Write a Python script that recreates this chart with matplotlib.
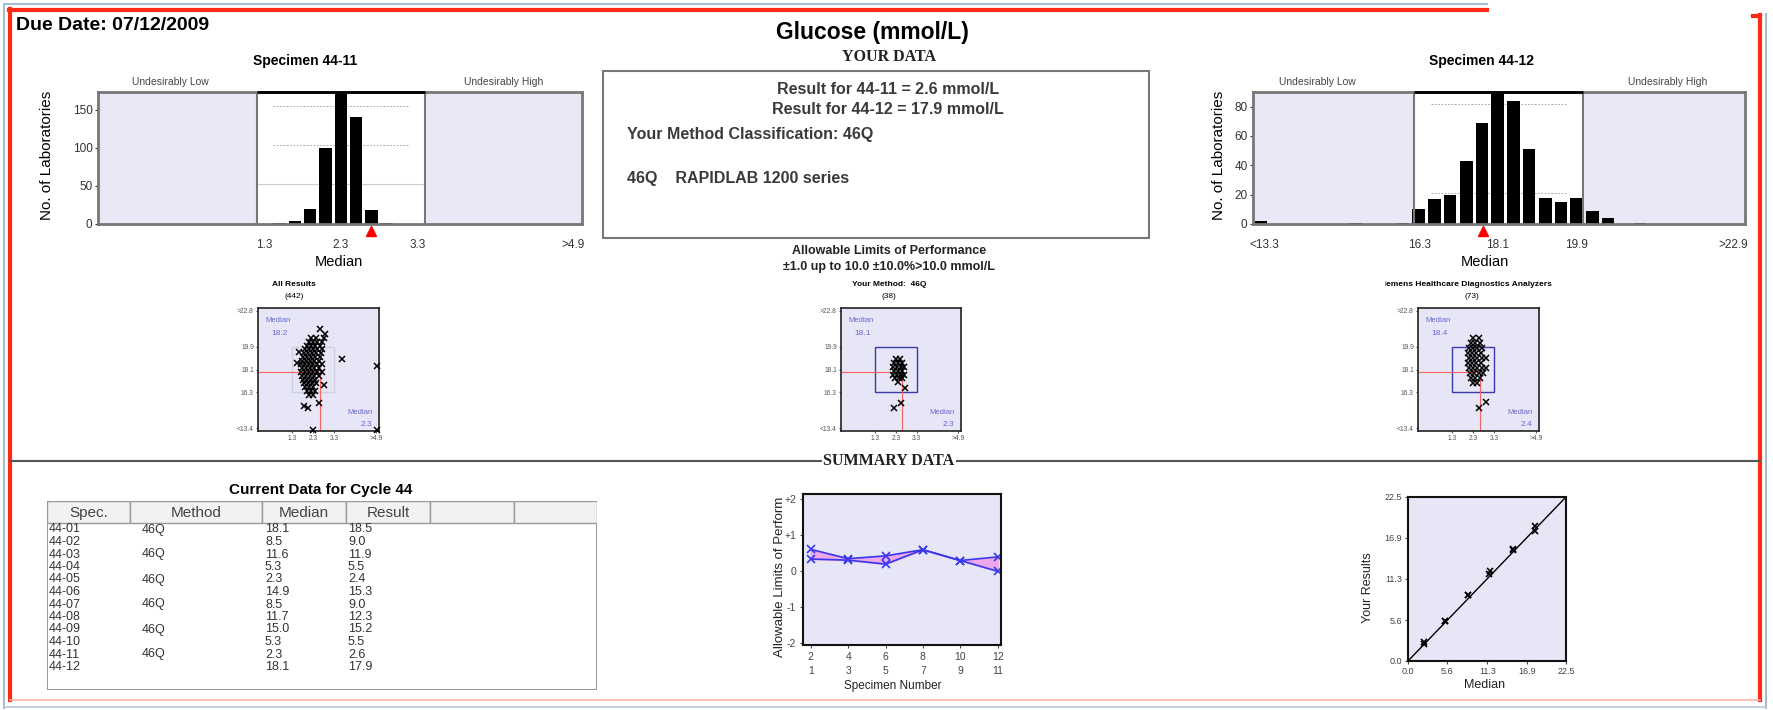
import matplotlib.pyplot as plt
import matplotlib.transforms as mtransforms
from matplotlib.lines import Line2D
from matplotlib.patches import Rectangle

plt.rcParams['font.family'] = ['Liberation Sans', 'DejaVu Sans']

W, H = 1773, 710

# ---------- data ----------
# histogram, specimen 44-11
s11_bins = [1.5, 1.7, 1.9, 2.1, 2.3, 2.5, 2.7, 2.9]
s11_counts = [1, 4, 20, 99, 172, 140, 18, 1]
s11_mark = 2.7
s11_limits = (1.2, 3.4)
s11_xlim = (-0.87, 5.45)
s11_ticks = [1.3, 2.3, 3.3, 5.33]
s11_ticklabels = ["1.3", "2.3", "3.3", ">4.9"]
s11_yticks = [0, 50, 100, 150]

# histogram, specimen 44-12
s12_bins = [12.67, 14.84, 15.93, 16.29, 16.65, 17.01, 17.38, 17.74, 18.1,
            18.46, 18.82, 19.19, 19.55, 19.91, 20.27, 20.63, 21.36]
s12_counts = [2, 1, 1, 10, 17, 20, 43, 69, 90, 84, 51, 18, 15, 18, 9, 4, 0.6]
s12_mark = 17.76
s12_limits = (16.19, 20.06)
s12_xlim = (12.49, 23.77)
s12_ticks = [12.75, 16.3, 18.1, 19.9, 23.5]
s12_ticklabels = ["<13.3", "16.3", "18.1", "19.9", ">22.9"]
s12_yticks = [0, 20, 40, 60, 80]

# youden plots (x = 44-11, y = 44-12)
all_x = [2.6, 2.2, 2.45, 2.8, 2.1, 2.3, 2.5, 2.7, 2.0, 2.2, 2.4, 2.6, 1.9, 2.1,
         2.3, 2.5, 2.7, 1.85, 2.05, 2.25, 2.45, 2.65, 1.8, 2.0, 2.2, 2.4, 2.6,
         1.75, 1.95, 2.15, 2.35, 2.55, 1.7, 1.9, 2.1, 2.3, 2.5, 2.7, 1.75, 1.95,
         2.15, 2.35, 2.55, 1.7, 1.9, 2.1, 2.3, 2.5, 2.7, 1.75, 1.95, 2.15, 2.35,
         2.55, 1.8, 2.0, 2.2, 2.4, 1.85, 2.05, 2.25, 2.45, 1.9, 2.1, 2.3, 2.0,
         2.2, 2.4, 2.1, 2.3, 3.7, 5.35, 1.85, 2.05, 2.55, 2.3, 5.35, 1.5, 2.85,
         1.6, 2.8]
all_y = [21.3, 20.6, 20.6, 20.6, 20.3, 20.3, 20.3, 20.3, 20.0, 20.0, 20.0, 20.0,
         19.7, 19.7, 19.7, 19.7, 19.7, 19.4, 19.4, 19.4, 19.4, 19.4, 19.1, 19.1,
         19.1, 19.1, 19.1, 18.8, 18.8, 18.8, 18.8, 18.8, 18.5, 18.5, 18.5, 18.5,
         18.5, 18.5, 18.2, 18.2, 18.2, 18.2, 18.2, 17.9, 17.9, 17.9, 17.9, 17.9,
         17.9, 17.6, 17.6, 17.6, 17.6, 17.6, 17.3, 17.3, 17.3, 17.3, 17.0, 17.0,
         17.0, 17.0, 16.7, 16.7, 16.7, 16.4, 16.4, 16.4, 16.1, 16.1, 18.9, 18.4,
         15.2, 15.0, 15.4, 13.3, 13.3, 18.6, 20.9, 19.5, 16.9]

meth_x = [2.3, 2.5, 2.2, 2.4, 2.6, 2.15, 2.35, 2.55, 2.7, 2.2, 2.4, 2.6, 2.15,
          2.35, 2.55, 2.7, 2.25, 2.45, 2.6, 2.2, 2.55, 2.75, 2.4]
meth_y = [18.9, 18.9, 18.6, 18.6, 18.6, 18.3, 18.3, 18.3, 18.3, 18.0, 18.0, 18.0,
          17.7, 17.7, 17.7, 17.7, 17.4, 17.4, 17.4, 15.0, 15.4, 16.6, 17.1]

inst_x = [2.3, 2.55, 2.2, 2.4, 2.6, 2.1, 2.3, 2.5, 2.7, 2.05, 2.25, 2.45, 2.65,
          2.1, 2.3, 2.5, 2.7, 2.9, 2.05, 2.25, 2.45, 2.65, 2.1, 2.3, 2.5, 2.7,
          2.9, 2.15, 2.35, 2.55, 2.75, 2.2, 2.4, 2.6, 2.3, 2.5, 2.55, 2.9]
inst_y = [20.6, 20.6, 20.2, 20.2, 20.2, 19.8, 19.8, 19.8, 19.8, 19.4, 19.4, 19.4,
          19.4, 19.0, 19.0, 19.0, 19.0, 19.0, 18.6, 18.6, 18.6, 18.6, 18.2, 18.2,
          18.2, 18.2, 18.2, 17.8, 17.8, 17.8, 17.8, 17.4, 17.4, 17.4, 17.0, 17.0,
          15.0, 15.5]

your_11, your_12 = 2.6, 17.9
yd_xticks = [1.3, 2.3, 3.3, 5.3]
yd_xlabels = ["1.3", "2.3", "3.3", ">4.9"]
yd_yticks = [13.4, 16.3, 18.1, 19.9, 22.8]
yd_ylabels = ["<13.4", "16.3", "18.1", "19.9", ">22.8"]

# table, cycle 44
spec = ["44-01", "44-02", "44-03", "44-04", "44-05", "44-06",
        "44-07", "44-08", "44-09", "44-10", "44-11", "44-12"]
method = ["46Q", "", "46Q", "", "46Q", "", "46Q", "", "46Q", "", "46Q", ""]
median = [18.1, 8.5, 11.6, 5.3, 2.3, 14.9, 8.5, 11.7, 15.0, 5.3, 2.3, 18.1]
result = [18.5, 9.0, 11.9, 5.5, 2.4, 15.3, 9.0, 12.3, 15.2, 5.5, 2.6, 17.9]

# summary: specimen pairs, in units of allowable limits
pair_pos = [1, 2, 3, 4, 5, 6]
even_lbl = ["2", "4", "6", "8", "10", "12"]
odd_lbl = ["1", "3", "5", "7", "9", "11"]
odd_vals = [0.34, 0.31, 0.2, 0.6, 0.3, 0.4]
even_vals = [0.61, 0.35, 0.43, 0.6, 0.3, 0.0]

fig = plt.figure(figsize=(W / 100, H / 100), dpi=100)


def box(x0, y0, x1, y1):
    return [x0 / W, 1 - y1 / H, (x1 - x0) / W, (y1 - y0) / H]


def ftext(x, y, s, **kw):
    kw.setdefault("ha", "center")
    kw.setdefault("va", "center")
    return fig.text(x / W, 1 - y / H, s, **kw)


def fline(x0, y0, x1, y1, **kw):
    fig.add_artist(Line2D([x0 / W, x1 / W], [1 - y0 / H, 1 - y1 / H], **kw))


LAV = "#e6e6f6"

# ---------- frame ----------
fline(5, 4, 1487, 4, color="#a8bcd0", lw=1.5)
fline(4, 4, 4, 708, color="#a8bcd0", lw=1.5)
fline(1766, 14, 1766, 708, color="#a8bcd0", lw=1.5)
fline(9, 10, 1487, 10, color="#ff2a14", lw=3)
fline(10, 9, 10, 700, color="#ff2a14", lw=3)
fline(1753, 16, 1760, 16, color="#ff2a14", lw=3)
fline(1760, 15, 1760, 700, color="#ff2a14", lw=3)
fline(10, 700, 1760, 700, color="#ffb0a8", lw=1.2)
fline(4, 707, 1766, 707, color="#b8c8d8", lw=1.2)

# ---------- header ----------
ftext(16, 25, "Due Date: 07/12/2009", ha="left", fontsize=14, fontweight="bold")
ftext(872, 32, "Glucose (mmol/L)", fontsize=16.5, fontweight="bold")
ftext(889, 57, "YOUR DATA", fontsize=11.5, fontweight="bold",
      family=["Liberation Serif", "DejaVu Serif"], color="#222222")

fig.add_artist(Rectangle((603 / W, 1 - 238 / H), (1149 - 603) / W, (238 - 71) / H,
                         transform=fig.transFigure, fill=False, ec="#777777", lw=1.5))
ftext(888, 90, "Result for 44-11 = 2.6 mmol/L", fontsize=11.5, fontweight="bold", color="#3a3a3a")
ftext(888, 110, "Result for 44-12 = 17.9 mmol/L", fontsize=11.5, fontweight="bold", color="#3a3a3a")
ftext(627, 134, "Your Method Classification: 46Q", ha="left", fontsize=11.5,
      fontweight="bold", color="#3a3a3a")
ftext(627, 178, "46Q    RAPIDLAB 1200 series", ha="left", fontsize=11.5,
      fontweight="bold", color="#3a3a3a")
ftext(889, 251, "Allowable Limits of Performance", fontsize=9, fontweight="bold", color="#222222")
ftext(889, 267, "\u00b11.0 up to 10.0 \u00b110.0%>10.0 mmol/L", fontsize=9,
      fontweight="bold", color="#222222")


# ---------- histograms ----------
def hist_panel(px, bins, counts, width, xlim, ylim, lim, yticks, xticks, xlabels,
               mark_x, dotted, solid):
    ax = fig.add_axes(box(*px))
    ax.set_facecolor("#e8e8f7")
    ax.axvspan(lim[0], lim[1], color="white", zorder=0)
    for v in dotted:
        ax.hlines(v, lim[0] + 0.1 * (lim[1] - lim[0]), lim[1] - 0.1 * (lim[1] - lim[0]),
                  color="#999999", lw=0.6, ls=(0, (2, 2)), zorder=1)
    for v in solid:
        ax.hlines(v, lim[0], lim[1], color="#cccccc", lw=0.8, zorder=1)
    ax.bar(bins, counts, width=width, color="black", zorder=2)
    ax.axvline(lim[0], color="#777777", lw=1.5, zorder=3)
    ax.axvline(lim[1], color="#777777", lw=1.5, zorder=3)
    ax.hlines(ylim[1], lim[0], lim[1], color="black", lw=2, zorder=4, clip_on=False)
    ax.set_xlim(*xlim)
    ax.set_ylim(*ylim)
    ax.set_yticks(yticks)
    ax.set_xticks(xticks)
    ax.set_xticklabels(xlabels)
    ax.tick_params(axis="x", length=0, pad=11, labelsize=8.5, colors="#333333")
    ax.tick_params(axis="y", length=2, pad=2, labelsize=8.5, colors="#333333")
    for sp in ax.spines.values():
        sp.set_color("#777777")
        sp.set_linewidth(2)
    trans = mtransforms.blended_transform_factory(ax.transData, ax.transAxes)
    ax.plot([mark_x], [-0.05], marker="^", ms=7.5, color="#ff0000", mec="#ff0000",
            transform=trans, clip_on=False, zorder=5)
    return ax


hist_panel((98, 92, 582, 224), s11_bins, s11_counts, 0.16, s11_xlim, (0, 173),
           s11_limits, s11_yticks, s11_ticks, s11_ticklabels, s11_mark, [155, 103], [52])
ftext(305, 61, "Specimen 44-11", fontsize=10, fontweight="bold")
ftext(170, 82, "Undesirably Low", fontsize=7.5, color="#444444")
ftext(504, 82, "Undesirably High", fontsize=7.5, color="#444444")
ftext(47, 155, "No. of Laboratories", fontsize=11, rotation=90)
ftext(339, 262, "Median", fontsize=10.5)

hist_panel((1253, 92, 1745, 224), s12_bins, s12_counts, 0.29, s12_xlim, (0, 90),
           s12_limits, s12_yticks, s12_ticks, s12_ticklabels, s12_mark, [82, 21], [])
ftext(1481, 61, "Specimen 44-12", fontsize=10, fontweight="bold")
ftext(1317, 82, "Undesirably Low", fontsize=7.5, color="#444444")
ftext(1668, 82, "Undesirably High", fontsize=7.5, color="#444444")
ftext(1219, 155, "No. of Laboratories", fontsize=11, rotation=90)
ftext(1485, 262, "Median", fontsize=10.5)


# ---------- youden plots ----------
def youden(px, xs, ys, med_y, med_x, rect_color):
    ax = fig.add_axes(box(*px))
    ax.set_facecolor(LAV)
    ax.set_xlim(-0.35, 5.45)
    ax.set_ylim(13.2, 23.0)
    ax.add_patch(Rectangle((1.3, 16.3), 2.0, 3.6, fill=False, ec=rect_color, lw=1, zorder=1))
    ax.hlines(your_12, -0.35, your_11, color="#ff6060", lw=0.8, zorder=2)
    ax.vlines(your_11, 13.2, your_12, color="#ff6060", lw=0.8, zorder=2)
    ax.plot(xs, ys, "x", color="black", ms=4.2, mew=1.1, zorder=3, clip_on=False)
    mc = "#6868d0"
    ax.text(0.06, 0.89, "Median", transform=ax.transAxes, fontsize=5.5, color=mc)
    ax.text(0.11, 0.78, med_y, transform=ax.transAxes, fontsize=6, color=mc)
    ax.text(0.74, 0.14, "Median", transform=ax.transAxes, fontsize=5.5, color=mc)
    ax.text(0.85, 0.04, med_x, transform=ax.transAxes, fontsize=6, color=mc)
    ax.set_xticks(yd_xticks)
    ax.set_xticklabels(yd_xlabels)
    ax.set_yticks(yd_yticks)
    ax.set_yticklabels(yd_ylabels)
    ax.tick_params(labelsize=4.8, colors="#555555", length=1.5, pad=1.5)
    for sp in ax.spines.values():
        sp.set_color("#222222")
        sp.set_linewidth(1.2)
    return ax


youden((258, 308, 379, 431), all_x, all_y, "18.2", "2.3", "#d0d0e4")
ftext(294, 284, "All Results", fontsize=6, fontweight="bold")
ftext(294, 296, "(442)", fontsize=6)

youden((841, 308, 961, 431), meth_x, meth_y, "18.1", "2.3", "#3a3aa8")
ftext(889, 284, "Your Method:  46Q", fontsize=6, fontweight="bold")
ftext(889, 296, "(38)", fontsize=6)

youden((1418, 308, 1539, 431), inst_x, inst_y, "18.4", "2.4", "#3a3aa8")
tax = fig.add_axes(box(1385, 278, 1560, 290))
tax.axis("off")
tax.text(-0.04, 0.5, "Siemens Healthcare Diagnostics Analyzers", transform=tax.transAxes,
         fontsize=6, fontweight="bold", ha="left", va="center", clip_on=True)
ftext(1472, 296, "(73)", fontsize=6)

# ---------- summary separator ----------
fline(10, 461, 1760, 461, color="#555555", lw=1.5)
ftext(889, 461, "SUMMARY DATA", fontsize=11.5, fontweight="bold",
      family=["Liberation Serif", "DejaVu Serif"], color="#222222",
      bbox=dict(fc="white", ec="none", pad=1))

# ---------- table ----------
ftext(321, 490, "Current Data for Cycle 44", fontsize=11, fontweight="bold")
tab = fig.add_axes(box(47, 501, 597, 690))
tab.set_xlim(0, 550)
tab.set_ylim(189, 0)
tab.axis("off")
tab.add_patch(Rectangle((0, 0), 550, 189, fill=False, ec="#888888", lw=1.2))
col_edges = [0, 83, 215, 299, 383, 467, 550]
headers = ["Spec.", "Method", "Median", "Result", "", ""]
for i, hname in enumerate(headers):
    x0, x1 = col_edges[i], col_edges[i + 1]
    tab.add_patch(Rectangle((x0, 0), x1 - x0, 22, fc="#f2f2f2", ec="#999999", lw=1))
    tab.text((x0 + x1) / 2, 12, hname, ha="center", va="center", fontsize=11, color="#444444")
for i in range(len(spec)):
    yy = 28.5 + 12.5 * i
    tab.text(1.5, yy, spec[i], va="center", fontsize=9, color="#333333")
    tab.text(95, yy, method[i], va="center", fontsize=9, color="#333333")
    tab.text(218, yy, f"{median[i]:.1f}", va="center", fontsize=9, color="#333333")
    tab.text(301, yy, f"{result[i]:.1f}", va="center", fontsize=9, color="#333333")

# ---------- summary line chart ----------
ax = fig.add_axes(box(803, 494, 1001, 645))
ax.set_facecolor(LAV)
ax.fill_between(pair_pos, odd_vals, even_vals, color="#ee9ee8", alpha=0.85, zorder=1)
ax.plot(pair_pos, odd_vals, "-x", color="#3838f0", lw=1.2, ms=6, mew=1.2, zorder=2)
ax.plot(pair_pos, even_vals, "-x", color="#3838f0", lw=1.2, ms=6, mew=1.2, zorder=2)
ax.set_xlim(0.79, 6.09)
ax.set_ylim(-2.05, 2.15)
ax.set_yticks([2, 1, 0, -1, -2])
ax.set_yticklabels(["+2", "+1", "0", "-1", "-2"])
ax.set_xticks(pair_pos)
ax.set_xticklabels([f"{e}\n{o}" for e, o in zip(even_lbl, odd_lbl)], linespacing=1.5)
ax.tick_params(labelsize=7.5, colors="#444444", length=2, pad=3)
for sp in ax.spines.values():
    sp.set_color("#111111")
    sp.set_linewidth(1.5)
ftext(780, 577, "Allowable Limits of Perform", fontsize=9.5, rotation=90, color="#222222")
ftext(893, 686, "Specimen Number", fontsize=8.5, color="#222222")

# ---------- your results vs median ----------
ax = fig.add_axes(box(1408, 497, 1566, 661))
ax.set_facecolor(LAV)
ax.axline((0, 0), slope=1, color="black", lw=1, zorder=1)
ax.plot(median, result, "x", color="black", ms=5, mew=1.2, zorder=2)
ax.set_xlim(0, 22.5)
ax.set_ylim(0, 22.5)
grid_ticks = [0, 5.6, 11.3, 16.9, 22.5]
ax.set_xticks(grid_ticks)
ax.set_yticks(grid_ticks)
ax.set_xticklabels([f"{t:.1f}" for t in grid_ticks])
ax.set_yticklabels([f"{t:.1f}" for t in grid_ticks])
ax.tick_params(labelsize=6.5, colors="#444444", length=2, pad=2)
for sp in ax.spines.values():
    sp.set_color("#111111")
    sp.set_linewidth(1.5)
ftext(1368, 588, "Your Results", fontsize=9, rotation=90, color="#222222")
ftext(1485, 685, "Median", fontsize=9, color="#222222")

fig.savefig("out.png", dpi=100, facecolor="white")
